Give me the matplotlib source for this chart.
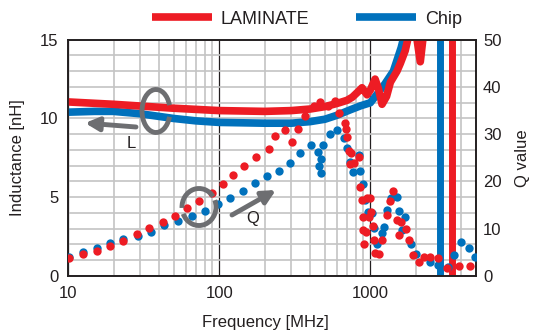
import numpy as np
import matplotlib
matplotlib.use('Agg')
import matplotlib.pyplot as plt
from matplotlib.patches import Arc
from matplotlib.ticker import FixedLocator, NullFormatter, FixedFormatter

plt.rcParams['font.family'] = ['Liberation Sans', 'DejaVu Sans']
plt.rcParams['font.size'] = 12

# --- inductance curves (nH) ---
lam_l_freq = [10, 20, 50, 100, 200, 300, 400, 500, 600, 700, 760, 830, 881, 951, 1000,
              1075, 1130, 1195, 1280, 1357, 1500, 1580, 1700, 1758, 1900, 2140, 2350]
lam_l = [11.05, 10.9, 10.65, 10.5, 10.45, 10.5, 10.6, 10.75, 10.95, 11.15, 11.35, 11.7, 11.95, 11.5, 11.8,
         12.5, 11.9, 10.9, 11.4, 12.3, 13.0, 13.5, 14.3, 14.9, 17.0, 13.6, 17.0]

chip_l_freq = [10, 15, 20, 30, 50, 70, 100, 200, 300, 400, 500, 600, 737, 860, 1000,
               1100, 1250, 1420, 1600, 1700, 1800]
chip_l = [10.4, 10.45, 10.45, 10.3, 10.0, 9.85, 9.75, 9.7, 9.7, 9.8, 9.95, 10.2, 10.55, 10.8, 11.0,
          11.5, 12.2, 13.0, 14.5, 15.5, 17.0]

# self resonance (inductance jumps through +-inf)
srf_lam = 3450
srf_chip = 2900

# --- Q value points ---
lam_q_freq = [10.2, 12.5, 15.5, 19.0, 23.2, 28.5, 34.5, 42.2, 51.2, 61.7, 74.1, 89.6, 106, 124, 147,
              176, 212, 235, 274, 303, 332, 371, 421, 467, 525, 587, 617, 683, 690, 701,
              718, 738, 745, 784, 837, 859, 882, 890, 895, 903, 942, 951, 975, 1000, 1010,
              1042, 1050, 1080, 1135, 1196, 1291, 1343, 1414, 1502, 1540, 1596, 1730, 1811, 1905, 2088,
              2279, 2497, 2806, 3220, 3847, 4592]
lam_q = [3.75, 4.6, 5.3, 6.4, 7.5, 8.8, 10.1, 11.4, 12.8, 14.3, 15.9, 17.6, 19.5, 21.4, 23.3,
         25.2, 26.9, 29.6, 30.9, 28.4, 31.1, 33.9, 36.0, 36.9, 36.0, 37.1, 34.4, 32.3, 31.0, 29.5,
         26.5, 23.8, 26.0, 24.0, 25.1, 18.9, 16.1, 12.5, 9.7, 6.8, 9.4, 16.4, 12.4, 16.6, 13.6,
         10.6, 7.6, 4.8, 4.7, 7.6, 12.9, 15.9, 18.0, 11.8, 8.7, 11.5, 9.9, 7.6, 4.4, 3.0,
         4.1, 4.0, 3.9, 1.6, 2.1, 2.1]

chip_q_freq = [10.2, 12.5, 15.5, 19.0, 23.2, 28.9, 35.4, 43.4, 53.7, 66.1, 80.0, 97.6, 118, 143,
               173, 207, 250, 292, 341, 404, 452, 459, 469, 473, 489, 540, 605, 667, 701, 738,
               768, 837, 859, 890, 925, 958, 1025, 1050, 1099, 1196, 1225, 1297, 1366, 1502, 1540,
               1627, 1688, 1866, 2001, 2497, 2816, 3254, 3597, 3994, 4497, 4950]
chip_q = [4.1, 5.1, 6.0, 7.0, 7.8, 8.5, 9.4, 10.7, 11.6, 12.7, 13.75, 15.2, 16.5, 18.0,
          19.6, 21.2, 22.3, 24.0, 26.0, 27.7, 26.3, 23.3, 24.8, 21.7, 27.7, 30.0, 30.9, 29.1, 27.0, 24.2,
          22.1, 25.5, 22.3, 19.5, 16.1, 13.6, 13.3, 10.1, 6.8, 9.0, 10.4, 14.0, 16.6, 16.8, 13.8,
          9.7, 12.5, 6.8, 4.7, 3.0, 2.3, 2.0, 4.4, 7.3, 5.9, 4.1]

x_ticks = [10, 100, 1000]
l_ticks = [0, 5, 10, 15]
q_ticks = [0, 10, 20, 30, 40, 50]

RED = '#ed1c24'
BLUE = '#0071bc'
GRAY = '#6d6e71'
TXT = '#231f20'

W, H = 542, 336


def fp(x, y):
    """pixel position (from top-left) -> figure fraction"""
    return (x / W, 1 - y / H)


fig = plt.figure(figsize=(W / 100, H / 100), dpi=100)
ax = fig.add_axes([68 / W, 1 - 276 / H, 408 / W, 236.3 / H])
ax.set_xscale('log')
ax.set_xlim(10, 5000)
ax.set_ylim(0, 15)

# grid
ax.xaxis.set_major_locator(FixedLocator(x_ticks))
ax.xaxis.set_major_formatter(FixedFormatter([str(t) for t in x_ticks]))
minor_x = [m * d for d in (10, 100, 1000) for m in range(2, 10) if m * d < 5000]
ax.xaxis.set_minor_locator(FixedLocator(minor_x))
ax.xaxis.set_minor_formatter(NullFormatter())
ax.set_yticks(l_ticks)
ax.yaxis.set_minor_locator(FixedLocator(np.arange(1, 15)))
ax.xaxis.grid(True, which='minor', color='#c4c4c4', lw=1.2)
ax.xaxis.grid(True, which='major', color=TXT, lw=0.9)
ax.yaxis.grid(True, which='both', color='#c4c4c4', lw=1.2)
ax.set_axisbelow(True)
ax.tick_params(which='both', length=0, labelsize=12, labelcolor=TXT)
ax.tick_params(axis='y', pad=7)
ax.tick_params(axis='x', pad=7)

# inductance
ax.axvline(srf_chip, color=BLUE, lw=5, zorder=2)
ax.axvline(srf_lam, color=RED, lw=5, zorder=2)
ax.plot(chip_l_freq, chip_l, color=BLUE, lw=5.5, solid_capstyle='butt', zorder=3, label='Chip')
ax.plot(lam_l_freq, lam_l, color=RED, lw=5.5, solid_capstyle='butt', zorder=4, label='LAMINATE')

# Q value on right axis
ax2 = ax.twinx()
ax2.set_ylim(0, 50)
ax2.set_yticks(q_ticks)
ax2.tick_params(length=0, labelsize=12, labelcolor=TXT, pad=5)
ax2.scatter(chip_q_freq, chip_q, s=36, color=BLUE, lw=0, zorder=3)
ax2.scatter(lam_q_freq, lam_q, s=36, color=RED, lw=0, zorder=4)

for a in (ax, ax2):
    for sp in a.spines.values():
        sp.set_color(TXT)
        sp.set_linewidth(1.2)

# labels
fig.text(*fp(18, 158), 'Inductance [nH]', rotation=90, ha='center', va='center', color=TXT, fontsize=12)
fig.text(*fp(522, 158), 'Q value', rotation=90, ha='center', va='center', color=TXT, fontsize=12)
fig.text(*fp(265, 322), 'Frequency [MHz]', ha='center', va='center', color=TXT, fontsize=12)

# legend
h, l = ax.get_legend_handles_labels()
fig.legend(h[::-1], l[::-1], loc='center', bbox_to_anchor=fp(307, 19), ncol=2, frameon=False,
           fontsize=13, handlelength=3.3, columnspacing=2.6, handletextpad=0.5,
           labelcolor=TXT)

# "L" loop + arrow
lc = fp(156, 111)
fig.add_artist(Arc(lc, 28 / W, 43 / H, theta1=35, theta2=325, color=GRAY, lw=3.5,
                   transform=fig.transFigure, zorder=10))
fig.add_artist(plt.Annotation('', xy=fp(85, 123), xytext=fp(136, 127),
                              xycoords='figure fraction', textcoords='figure fraction',
                              arrowprops=dict(arrowstyle='-|>', color=GRAY, lw=3.5,
                                              mutation_scale=20, shrinkA=0, shrinkB=0)))
fig.text(*fp(131, 143), 'L', ha='center', va='center', color=TXT, fontsize=12)

# "Q" loop + arrow
qc = fp(199, 207)
fig.add_artist(Arc(qc, 34 / W, 37 / H, theta1=50, theta2=185, color=GRAY, lw=3.5,
                   transform=fig.transFigure, zorder=10))
fig.add_artist(Arc(qc, 34 / W, 37 / H, theta1=215, theta2=395, color=GRAY, lw=3.5,
                   transform=fig.transFigure, zorder=10))
fig.add_artist(plt.Annotation('', xy=fp(276, 190), xytext=fp(232, 215),
                              xycoords='figure fraction', textcoords='figure fraction',
                              arrowprops=dict(arrowstyle='-|>', color=GRAY, lw=3.5,
                                              mutation_scale=20, shrinkA=0, shrinkB=0)))
fig.text(*fp(253, 219), 'Q', ha='center', va='center', color=TXT, fontsize=12)

fig.savefig('out.png', dpi=100)
